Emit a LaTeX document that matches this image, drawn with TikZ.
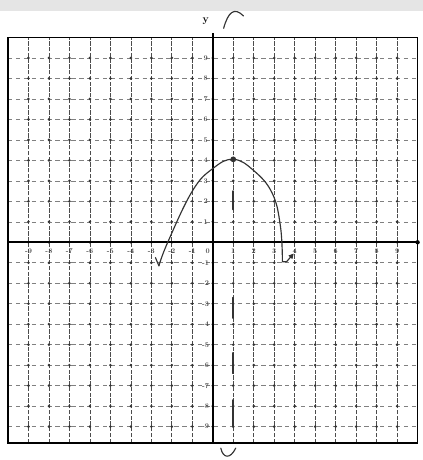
\documentclass[tikz,border=0pt]{standalone}
\usepackage{tikz}
\usetikzlibrary{arrows.meta,positioning}
\tikzset{
  gridv/.style={black!70, line width=1pt, dash pattern=on 6pt off 2pt},
  gridh/.style={black!50, line width=0.8pt, dash pattern=on 6pt off 5pt},
  ticklbl/.style={font=\normalsize\bfseries, text=black!70, inner sep=1pt},
  pen/.style={black!80, line width=1.6pt, line cap=round, line join=round}
}
\begin{document}
\begin{tikzpicture}
\useasboundingbox (-10.39,-10.63) rectangle (10.26,11.83);
\fill[black!10] (-10.39,11.3) rectangle (10.26,11.83); % scan shadow
% graph paper
\foreach \k in {-9,...,9} {
  \draw[gridv] (\k,-9.8) -- (\k,10);
  \draw[gridh] (-10,\k) -- (10,\k);
}
\foreach \i in {-9,...,9}
  \foreach \j in {-9,...,9}
    \fill[black!80] (\i,\j) circle (2pt);
\draw[line width=2pt] (-10,-9.8) rectangle (10,10);
% axes
\draw[line width=2.2pt] (-10,0) -- (10,0);
\fill (10,0) circle (3pt);
\draw[line width=2.2pt] (0,-9.8) -- (0,10.2);
\node[font=\Large\bfseries] (ylab) at (-0.35,10.8) {y};
\foreach \x in {-9,...,-1,1,2,...,9}
  \node[ticklbl] (xl\x) at (\x,-0.45) {\x};
\node[ticklbl] (xl0) at (-0.25,-0.45) {0};
\foreach \y in {-9,...,-1,1,2,...,9}
  \node[ticklbl] (yl\y) at (-0.35,\y) {\y};
% axis of symmetry x = 1
\foreach \a/\b in {2.5/1.6, -2.7/-3.7, -5.4/-6.4, -7.7/-9}
  \draw[pen, line width=2.2pt] (1,\a) -- (1,\b);
\draw[pen] (0.53,10.45) .. controls (0.75,11.25) and (1.05,11.5) .. (1.5,11.05);
\draw[pen] (0.39,-10.05) .. controls (0.5,-10.55) and (0.85,-10.6) .. (1.12,-10.05);
% the curve
\draw[pen] (-2.8,-0.75) -- (-2.63,-1.15);
\draw[pen, -{Triangle[length=7pt,width=7pt]}] plot[smooth, tension=0.7] coordinates {(-2.63,-1.15) (-2.2,0) (-1,2.5) (0,3.6) (1,4.05) (2,3.5) (2.9,2.4) (3.3,0.8) (3.4,-0.95)}
  -- (3.6,-0.95) -- (3.95,-0.55);
\node[circle, fill=black!80, inner sep=0pt, minimum size=8pt] (vertex) at (1,4.05) {};
\end{tikzpicture}
\end{document}
